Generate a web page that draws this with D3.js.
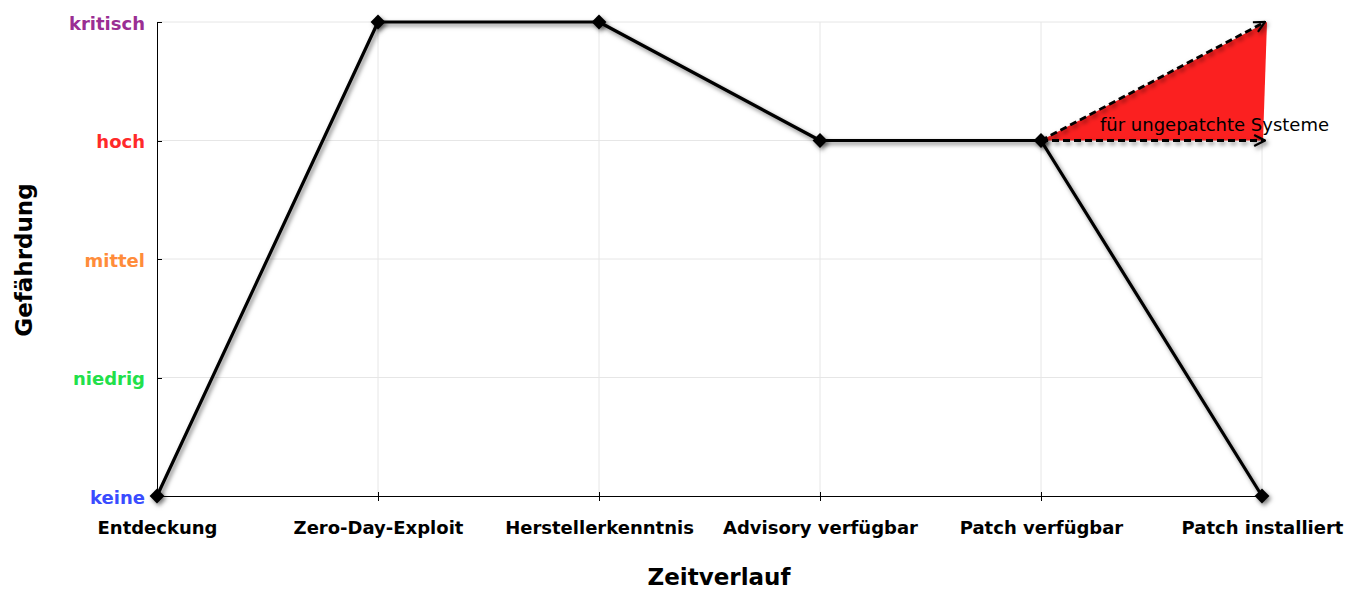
<!DOCTYPE html>
<html lang="de">
<head>
<meta charset="UTF-8">
<title>Gefährdung im Zeitverlauf</title>
<script src="https://d3js.org/d3.v7.min.js"></script>
<style>
  body { margin: 0; background: #fff; }
  text { font-family: "DejaVu Sans", sans-serif; }
  .grid line { stroke: #e6e6e6; stroke-width: 1px; }
  .axis path, .axis line { stroke: #000; fill: none; shape-rendering: crispEdges; }
  .axis text { font-weight: bold; font-size: 18px; }
  .title { font-weight: bold; font-size: 23px; text-anchor: middle; }
</style>
</head>
<body>
<svg width="1348" height="592"></svg>
<script>
// Kategorien (Zeitverlauf) und Stufen (Gefährdung)
var categories = ["Entdeckung", "Zero-Day-Exploit", "Herstellerkenntnis", "Advisory verfügbar", "Patch verfügbar", "Patch installiert"];
var levels = ["keine", "niedrig", "mittel", "hoch", "kritisch"];
var levelColors = ["#3a4cff", "#22e04a", "#ff8c3a", "#ff2a2a", "#9a2e93"];
// Gefährdungsstufe je Zeitpunkt (Index in levels)
var values = [0, 4, 4, 3, 3, 0];
// Verlauf für ungepatchte Systeme
var unpatchedFrom = "Patch verfügbar", unpatchedTo = "Patch installiert";
var unpatchedUpper = [3, 4];
var unpatchedLower = [3, 3];
var unpatchedLabel = "für ungepatchte Systeme";

var svg = d3.select("svg"),
    margin = {top: 22, right: 86, bottom: 96, left: 157},
    width = +svg.attr("width") - margin.left - margin.right,
    height = +svg.attr("height") - margin.top - margin.bottom;

var defs = svg.append("defs");
var f = defs.append("filter").attr("id", "shadow")
  .attr("filterUnits", "userSpaceOnUse")
  .attr("x", -200).attr("y", -100).attr("width", 1700).attr("height", 800);
f.append("feDropShadow").attr("dx", 2).attr("dy", 2.5).attr("stdDeviation", 2)
  .attr("flood-color", "#000").attr("flood-opacity", 0.5);

defs.append("marker").attr("id", "arrow")
  .attr("viewBox", "0 0 12 12").attr("refX", 11).attr("refY", 6)
  .attr("markerWidth", 13).attr("markerHeight", 13).attr("markerUnits", "userSpaceOnUse")
  .attr("orient", "auto")
  .append("path").attr("d", "M1,1 L11,6 L1,11")
  .attr("fill", "none").attr("stroke", "#000").attr("stroke-width", 2);

var g = svg.append("g").attr("transform", "translate(" + margin.left + "," + margin.top + ")");

var x = d3.scalePoint().domain(categories).range([0, width]);
var y = d3.scaleLinear().domain([0, levels.length - 1]).range([height, 0]);

// Gitter
g.append("g").attr("class", "grid")
  .selectAll("line.h").data(d3.range(1, levels.length)).enter().append("line")
  .attr("x1", 0).attr("x2", width).attr("y1", function(d) { return y(d); }).attr("y2", function(d) { return y(d); });
g.select(".grid")
  .selectAll("line.v").data(categories.slice(1)).enter().append("line")
  .attr("y1", 0).attr("y2", height).attr("x1", function(d) { return x(d); }).attr("x2", function(d) { return x(d); });

// Achsen
var xAxis = g.append("g").attr("class", "axis axis--x")
  .attr("transform", "translate(0," + height + ")")
  .call(d3.axisBottom(x).tickSizeInner(5).tickSizeOuter(0).tickPadding(20));
xAxis.selectAll(".tick line").attr("y1", -4);
xAxis.selectAll("text").attr("fill", "#000");

var yAxis = g.append("g").attr("class", "axis axis--y")
  .call(d3.axisLeft(y).tickValues(d3.range(levels.length)).tickSizeInner(4).tickSizeOuter(0).tickPadding(8)
    .tickFormat(function(d) { return levels[d]; }));
yAxis.selectAll(".tick line").attr("x2", 5);
yAxis.selectAll("text").attr("fill", function(d) { return levelColors[d]; }).attr("dy", "0.4em");

// Bereich für ungepatchte Systeme
var x0 = x(unpatchedFrom), x1 = x(unpatchedTo);
g.append("path")
  .attr("d", "M" + x0 + "," + y(unpatchedUpper[0]) +
             "L" + (x1 + 5) + "," + y(unpatchedUpper[1]) +
             "L" + (x1 + 1) + "," + y(unpatchedLower[1]) + "Z")
  .attr("fill", "#fb2020");

[unpatchedUpper, unpatchedLower].forEach(function(s) {
  g.append("line")
    .attr("x1", x0).attr("y1", y(s[0]))
    .attr("x2", x1 + 3).attr("y2", y(s[1]))
    .attr("stroke", "#000").attr("stroke-width", 2.8)
    .attr("stroke-dasharray", "7,4")
    .attr("marker-end", "url(#arrow)")
    .attr("filter", "url(#shadow)");
});

g.append("text")
  .attr("x", x0 + 59).attr("y", y(unpatchedLower[1]) - 10)
  .attr("font-size", "18px")
  .text(unpatchedLabel);

// Linie
var line = d3.line()
  .x(function(d, i) { return x(categories[i]); })
  .y(function(d) { return y(d); });

g.append("path").datum(values)
  .attr("d", line)
  .attr("fill", "none").attr("stroke", "#000").attr("stroke-width", 3.2)
  .attr("stroke-linejoin", "round")
  .attr("filter", "url(#shadow)");

g.selectAll(".dot").data(values).enter().append("path")
  .attr("class", "dot")
  .attr("d", d3.symbol().type(d3.symbolDiamond2).size(140))
  .attr("transform", function(d, i) { return "translate(" + x(categories[i]) + "," + y(d) + ")"; })
  .attr("fill", "#000")
  .attr("filter", "url(#shadow)");

// Achsentitel
svg.append("text").attr("class", "title")
  .attr("x", 719).attr("y", 585).text("Zeitverlauf");
svg.append("text").attr("class", "title")
  .attr("transform", "translate(32," + 260 + ") rotate(-90)").text("Gefährdung");
</script>
</body>
</html>
